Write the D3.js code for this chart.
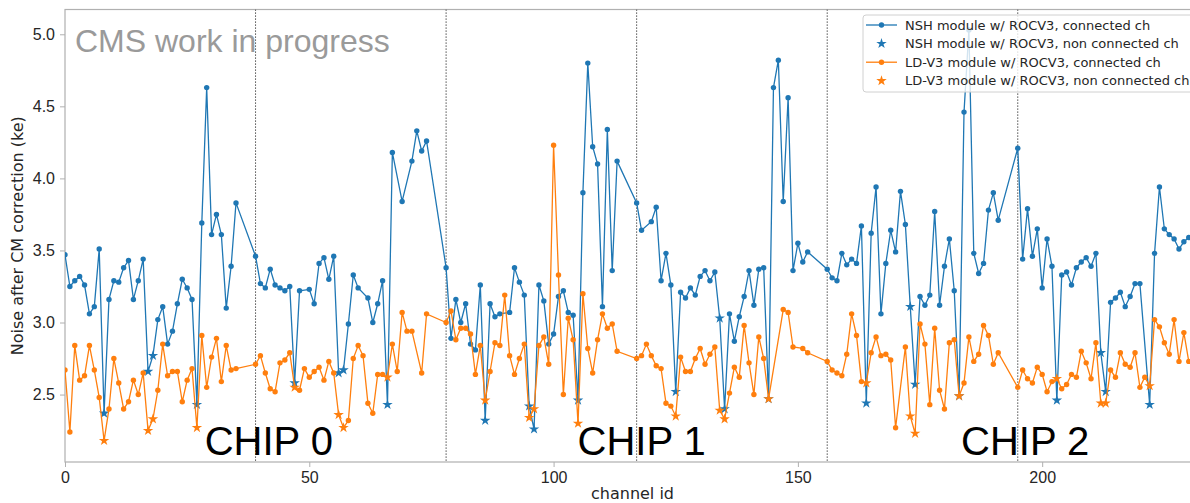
<!DOCTYPE html>
<html>
<head>
<meta charset="utf-8">
<script src="https://cdn.jsdelivr.net/npm/d3@7"></script>
<style>
  body { margin: 0; background: #fff; }
  svg { display: block; font-family: "DejaVu Sans", sans-serif; }
</style>
</head>
<body>
<div id="chart"></div>
<script>
// each half-chip has 36 readout channels, followed by 3 unused ids
const halfStarts = [0, 39, 78, 117, 156, 195];
const halfBounds = [39, 78, 117, 156, 195];
const nonConnectedOffsets = [8, 17, 18, 27];

const chipLabels = ['CHIP 0', 'CHIP 1', 'CHIP 2'];
const chipLabelCh = [28.6, 104.9, 183.4];

const xTicks = [0, 50, 100, 150, 200];
const yTicks = [2.5, 3.0, 3.5, 4.0, 4.5, 5.0];

// NSH module w/ ROCV3, 36 values per half (null = no marker visible)
const nshNoise = [
  3.47, 3.25, 3.29, 3.32, 3.26, 3.06, 3.11, 3.51, 2.37, 3.16, 3.29, 3.28, 3.38, 3.43, 3.16, 3.29, 3.44, 2.66,
  2.77, 3.02, 3.11, 2.85, 2.94, 3.13, 3.30, 3.24, 3.16, 2.43, 3.69, 4.63, 3.61, 3.75, 3.61, 3.10, 3.39, 3.83,

  3.46, 3.27, 3.24, 3.37, 3.26, 3.24, 3.22, 3.25, 2.58, 3.22, null, 3.23, 3.13, 3.41, 3.45, 3.30, 3.46, 2.65,
  2.67, 2.99, 3.33, 3.24, null, 3.17, 3.00, 3.13, 3.29, 2.43, 4.18, null, 3.84, null, 4.12, 4.33, 4.19, 4.26,

  3.38, 2.89, 3.16, 3.00, 3.13, 2.85, 2.81, 3.26, 2.32, 3.13, 3.04, 3.06, null, 3.07, 3.38, 3.28, 3.19, 2.42,
  2.26, 3.26, 3.15, 2.85, 2.92, 3.18, 3.22, 3.07, 3.05, 2.46, 3.90, 4.80, 4.22, 4.10, 3.11, 4.34, 3.36, 4.12,

  3.83, 3.64, null, 3.70, 3.80, 3.29, 3.48, 3.26, 2.52, 3.21, 3.17, 3.24, 3.19, 3.32, 3.36, 3.29, 3.35, 3.03,
  2.40, 3.06, 2.87, 3.04, 3.18, 3.36, 3.12, 3.37, 3.38, 2.47, 4.63, 4.82, 3.84, 4.56, 3.36, 3.55, 3.42, 3.49,

  3.37, 3.31, 3.29, 3.48, 3.40, 3.44, 3.41, 3.67, 2.44, 3.62, 3.94, 3.06, 3.41, 3.64, 3.49, 3.91, 3.68, 3.11,
  2.57, 3.18, 3.12, 3.19, 3.77, 3.12, 3.39, 3.58, 3.22, 2.49, 4.46, 5.03, 3.48, 3.34, 3.41, 3.78, 3.90, 3.71,

  4.21, 3.44, 3.79, 3.46, 3.65, 3.24, 3.58, 3.39, 2.46, 3.33, 3.35, 3.26, 3.38, 3.42, 3.45, 3.39, 3.48, 2.79,
  2.52, 3.14, 3.17, 3.21, 3.11, 3.18, 3.27, 3.27, null, 2.43, 3.48, 3.94, 3.65, 3.61, 3.58, 3.51, 3.56, 3.59
];

// LD-V3 module w/ ROCV3, 36 values per half (null = no marker visible)
const ldNoise = [
  2.67, 2.24, 2.84, 2.60, 2.63, 2.84, 2.67, 2.48, 2.18, 2.40, 2.75, 2.58, 2.40, 2.45, 2.60, 2.50, 2.65, 2.25,
  2.33, 2.53, 2.85, 2.63, 2.66, 2.66, 2.45, 2.60, 2.68, 2.27, 2.91, 2.55, 2.76, 2.89, 2.59, 2.84, 2.67, 2.68,

  2.71, 2.77, 2.65, 2.54, 2.52, 2.72, 2.74, 2.79, 2.55, 2.53, 2.68, 2.62, 2.66, 2.69, 2.60, 2.73, 2.65, 2.36,
  2.27, 2.32, 2.75, 2.84, 2.77, 2.44, 2.37, 2.64, 2.64, 2.62, 2.85, 2.66, 3.07, 2.94, 2.94, null, 2.65, 3.06,

  3.00, 3.08, 2.88, 2.96, 2.96, 2.92, 2.64, 2.84, 2.46, 2.66, 2.86, 2.84, 3.19, 2.77, 2.64, 2.75, 2.85, 2.34,
  2.40, 2.84, 2.90, 2.71, 4.23, 3.33, 2.50, 3.03, 2.88, 2.30, 3.20, 2.82, 2.65, 2.88, 3.06, 2.96, 2.99, 2.80,

  2.75, 2.77, 2.85, 2.77, 2.70, 2.68, 2.44, 2.42, 2.35, 2.76, 2.66, 2.66, 2.75, 2.82, 2.71, 2.78, 2.83, 2.39,
  2.33, 2.51, 2.69, 2.62, 2.98, 2.72, 2.50, 2.90, 2.75, 2.47, null, null, 3.09, 3.07, 2.83, null, 2.82, 2.79,

  2.73, 2.67, 2.65, 2.63, 2.78, 3.06, 2.91, 2.59, 2.58, 2.79, 2.90, 2.77, 2.78, 2.74, 2.27, null, 2.83, 2.35,
  2.23, 2.99, 2.85, 2.43, 2.96, 2.53, 2.40, 2.86, 2.88, 2.49, 2.58, 2.90, 2.73, 2.78, 2.98, 2.91, 2.71, 2.79,

  2.55, 2.67, 2.61, 2.58, 2.69, 2.64, 2.52, 2.59, 2.61, 2.54, 2.57, 2.64, 2.62, 2.80, 2.72, 2.61, 2.86, 2.44,
  2.44, 2.67, 2.62, 2.79, 2.71, 2.69, 2.79, 2.55, 2.62, 2.56, 3.02, 2.97, 2.86, 2.78, 3.02, 2.73, 2.93, 2.73
];

const channels = halfStarts.flatMap(s => d3.range(36).map(o => s + o));
const isNonConnected = ch => nonConnectedOffsets.includes(ch % 39);

const width = 1190, height = 503;
const margin = { left: 65, top: 9.5, right: 1200, bottom: 462 };

const x = d3.scaleLinear().domain([0, 232.3]).range([margin.left, margin.right]);
const y = d3.scaleLinear().domain([2.032, 5.172]).range([margin.bottom, margin.top]);

const svg = d3.select('#chart').append('svg')
  .attr('width', width)
  .attr('height', height);

svg.append('defs').append('clipPath').attr('id', 'plot-clip')
  .append('rect')
  .attr('x', margin.left).attr('y', margin.top)
  .attr('width', margin.right - margin.left).attr('height', margin.bottom - margin.top);

// frame
svg.append('rect')
  .attr('x', margin.left).attr('y', margin.top)
  .attr('width', margin.right - margin.left).attr('height', margin.bottom - margin.top)
  .attr('fill', 'none').attr('stroke', '#b0b0b0').attr('stroke-width', 1.2);

// axes
const xAxis = svg.append('g')
  .attr('transform', `translate(0,${margin.bottom})`)
  .call(d3.axisBottom(x).tickValues(xTicks).tickFormat(d3.format('d')).tickSize(5).tickPadding(5));
const yAxis = svg.append('g')
  .attr('transform', `translate(${margin.left},0)`)
  .call(d3.axisLeft(y).tickValues(yTicks).tickFormat(d3.format('.1f')).tickSize(5).tickPadding(5));

[xAxis, yAxis].forEach(g => {
  g.select('.domain').remove();
  g.selectAll('line').attr('stroke', '#b0b0b0');
  g.selectAll('text').attr('fill', '#262626').style('font-size', '16px');
});

svg.append('text')
  .attr('x', (margin.left + margin.right) / 2).attr('y', 499)
  .attr('text-anchor', 'middle').attr('fill', '#262626')
  .style('font-size', '16px')
  .text('channel id');

svg.append('text')
  .attr('transform', `translate(23,${(margin.top + margin.bottom) / 2}) rotate(-90)`)
  .attr('text-anchor', 'middle').attr('fill', '#262626')
  .style('font-size', '16px')
  .text('Noise after CM correction (ke)');

const plot = svg.append('g').attr('clip-path', 'url(#plot-clip)');

// half-chip separators
plot.selectAll('.sep').data(halfBounds).enter().append('line')
  .attr('class', 'sep')
  .attr('x1', d => x(d)).attr('x2', d => x(d))
  .attr('y1', margin.top).attr('y2', margin.bottom)
  .attr('stroke', '#222').attr('stroke-width', 1)
  .attr('stroke-dasharray', '1.2,1.8');

plot.append('text')
  .attr('x', 75).attr('y', 52)
  .attr('fill', '#9a9a9a')
  .style('font-family', '"Liberation Sans", Arial, sans-serif')
  .style('font-size', '32px')
  .text('CMS work in progress');

plot.selectAll('.chip').data(chipLabels).enter().append('text')
  .attr('class', 'chip')
  .attr('x', (d, i) => x(chipLabelCh[i])).attr('y', 455)
  .attr('fill', '#000')
  .style('font-family', '"Liberation Sans", Arial, sans-serif')
  .style('font-size', '40px')
  .text(d => d);

const series = [
  { name: 'NSH', values: nshNoise, color: '#1f77b4' },
  { name: 'LD-V3', values: ldNoise, color: '#ff7f0e' }
];

const line = d3.line().x(d => x(d.ch)).y(d => y(d.v));
const star = d3.symbol().type(d3.symbolStar).size(34);

series.forEach(s => {
  const pts = channels.map((ch, i) => ({ ch, v: s.values[i] })).filter(d => d.v != null);
  const g = plot.append('g');
  g.append('path')
    .datum(pts)
    .attr('d', line)
    .attr('fill', 'none')
    .attr('stroke', s.color)
    .attr('stroke-width', 1.3);
  g.selectAll('circle').data(pts.filter(d => !isNonConnected(d.ch))).enter().append('circle')
    .attr('cx', d => x(d.ch)).attr('cy', d => y(d.v)).attr('r', 2.7)
    .attr('fill', s.color);
  g.selectAll('.star').data(pts.filter(d => isNonConnected(d.ch))).enter().append('path')
    .attr('class', 'star')
    .attr('transform', d => `translate(${x(d.ch)},${y(d.v)})`)
    .attr('d', star)
    .attr('fill', s.color);
});

// legend
const legendItems = [
  { label: 'NSH module w/ ROCV3, connected ch', color: '#1f77b4', kind: 'line' },
  { label: 'NSH module w/ ROCV3, non connected ch', color: '#1f77b4', kind: 'star' },
  { label: 'LD-V3 module w/ ROCV3, connected ch', color: '#ff7f0e', kind: 'line' },
  { label: 'LD-V3 module w/ ROCV3, non connected ch', color: '#ff7f0e', kind: 'star' }
];

const legend = svg.append('g').attr('transform', 'translate(863,15)');
legend.append('rect')
  .attr('width', 340).attr('height', 77).attr('rx', 3)
  .attr('fill', '#fff').attr('fill-opacity', 0.8)
  .attr('stroke', '#d0d0d0');

legendItems.forEach((d, i) => {
  const row = legend.append('g').attr('transform', `translate(0,${10 + i * 18.6})`);
  if (d.kind === 'line') {
    row.append('line').attr('x1', 3).attr('x2', 34).attr('stroke', d.color).attr('stroke-width', 1.3);
    row.append('circle').attr('cx', 18.5).attr('r', 2.7).attr('fill', d.color);
  } else {
    row.append('path').attr('transform', 'translate(18.5,0)').attr('d', star).attr('fill', d.color);
  }
  row.append('text')
    .attr('x', 42).attr('dy', '0.35em')
    .attr('fill', '#262626')
    .style('font-size', '13px')
    .text(d.label);
});
</script>
</body>
</html>
